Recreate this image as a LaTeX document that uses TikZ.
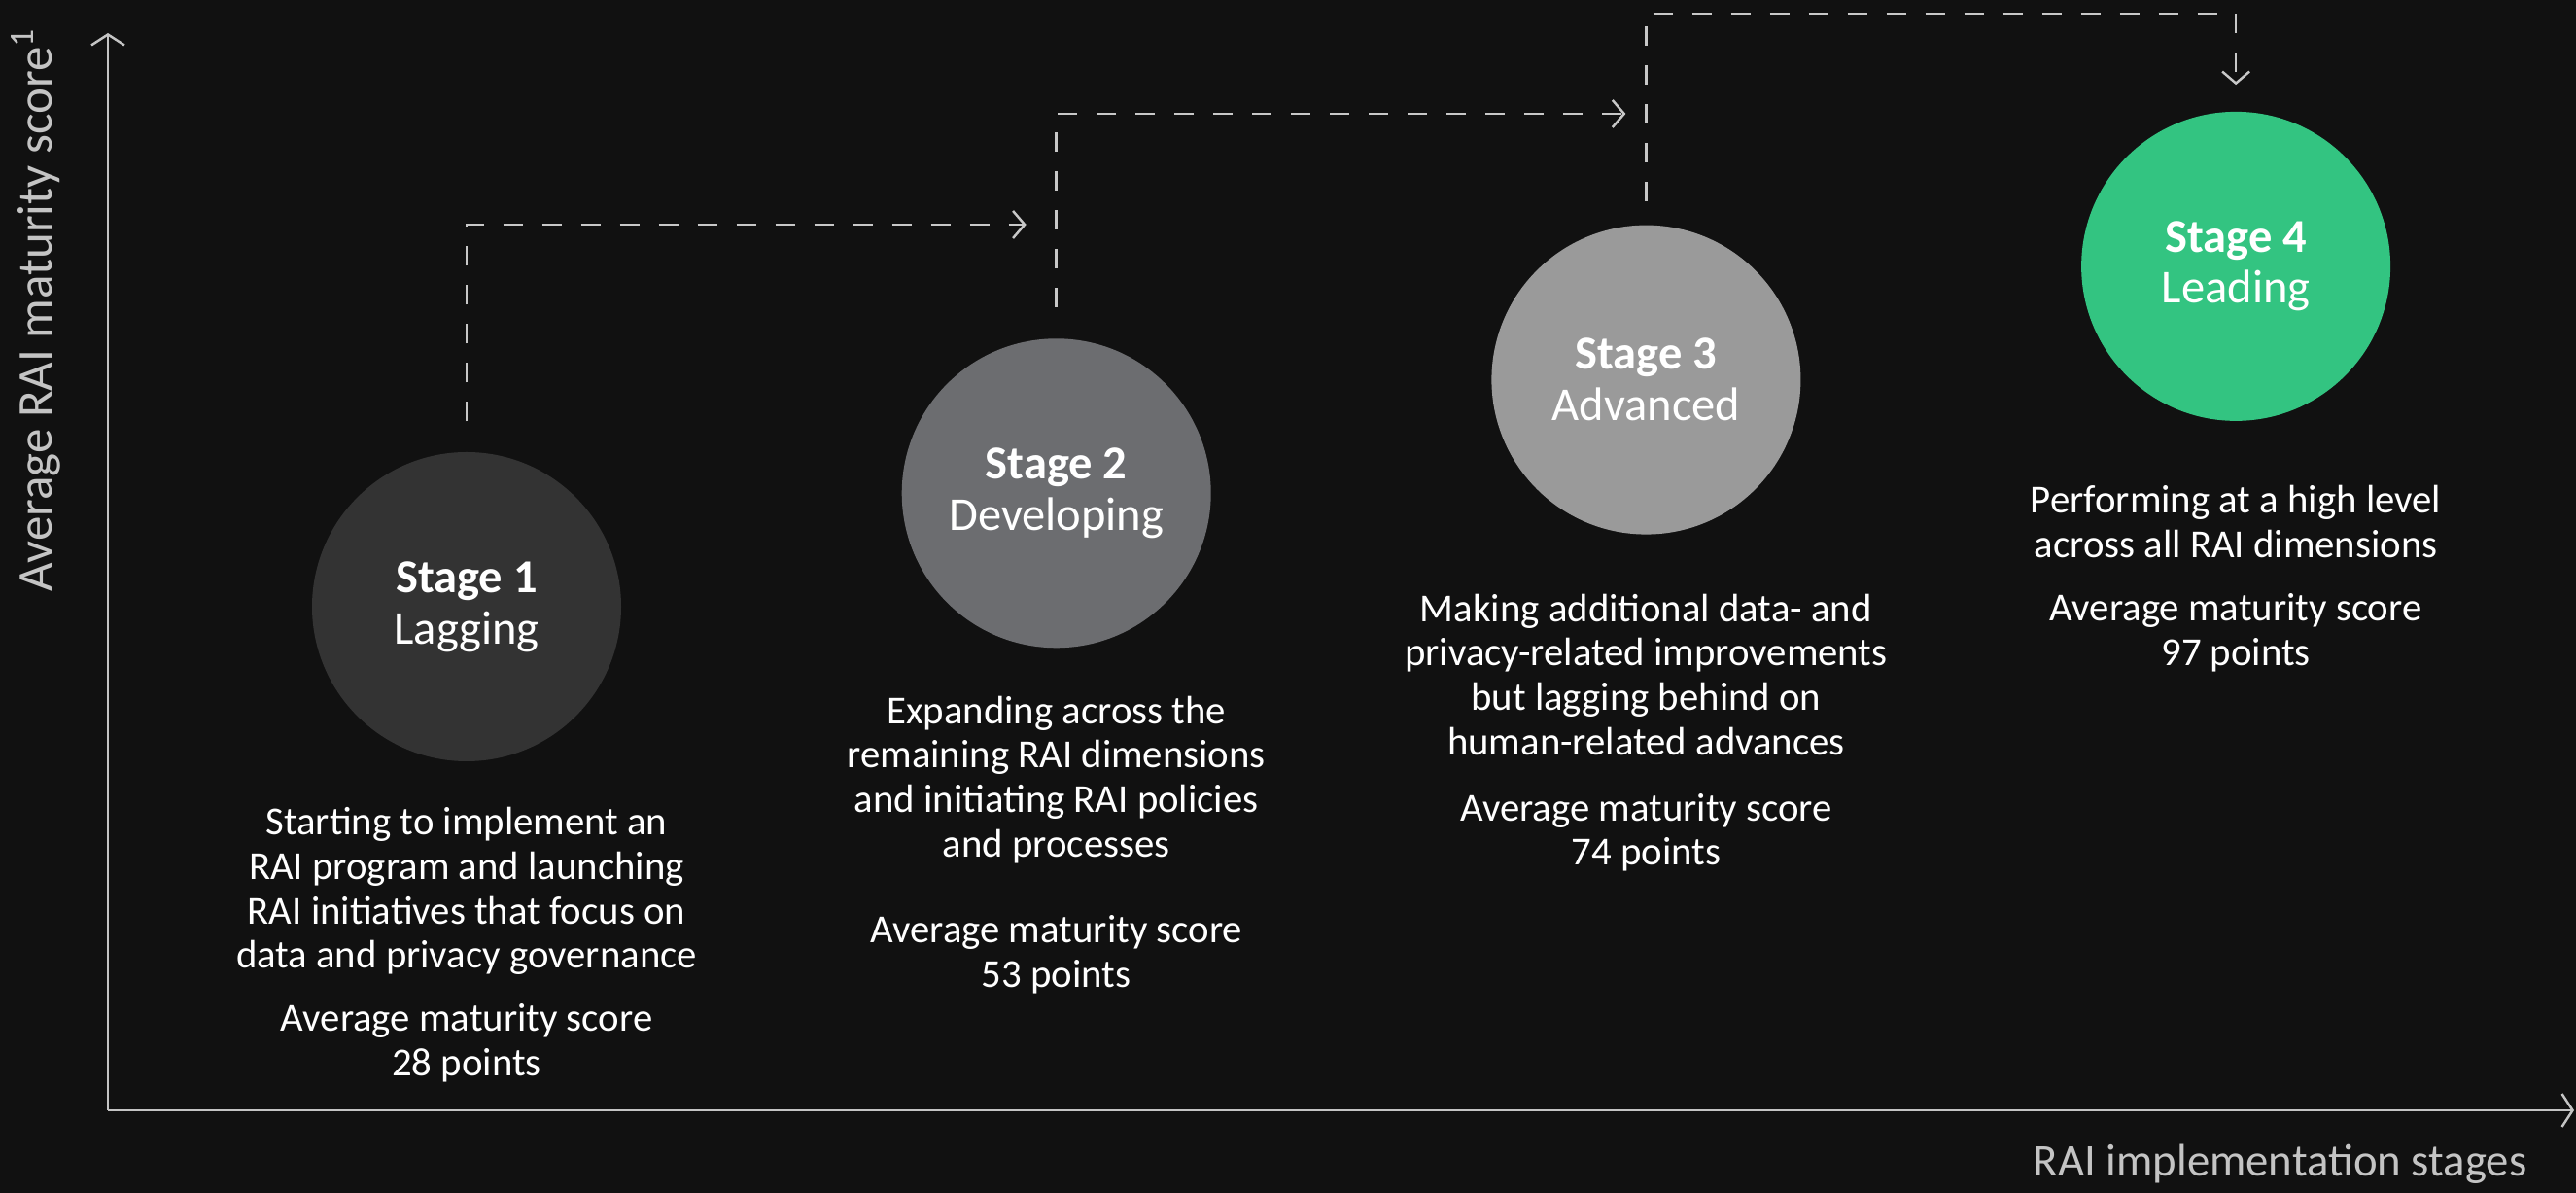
\documentclass[tikz,border=0pt]{standalone}
\usepackage{fontspec}
\setmainfont{Carlito}
\usetikzlibrary{
	arrows.meta,
	positioning
}

\definecolor{bgdark}{HTML}{111111}
\definecolor{axisgray}{HTML}{C4C4C4}
\definecolor{dashgray}{HTML}{C8C8C8}
\definecolor{stageone}{HTML}{333333}
\definecolor{stagetwo}{HTML}{6C6D70}
\definecolor{stagethree}{HTML}{9A9A9A}
\definecolor{stagefour}{HTML}{33C481}

\tikzset{
	stagecircle/.style={circle, minimum size=3.18cm, inner sep=0pt, align=center, text=white, font=\fontsize{13.8}{15}\selectfont},
	stagetext/.style={align=center, text=white, inner sep=0pt, font=\fontsize{11.6}{13}\selectfont},
	axislabel/.style={text=axisgray, inner sep=0pt, font=\fontsize{13.3}{15}\selectfont},
	axisline/.style={draw=axisgray, line width=0.7pt, -{Straight Barb[length=1.1mm, width=3.4mm]}},
	flowline/.style={draw=dashgray, line width=0.7pt, dash pattern=on 2mm off 2mm, -{Straight Barb[length=1.2mm, width=2.8mm]}}
}

\begin{document}
\begin{tikzpicture}
    % Definitions
    \coordinate (origo) at (0,0);
    \def \stepx{6.067}
    \def \stepy{1.167}
    % Background
    \fill[bgdark] (origo) rectangle (26.5,12.27);
    \useasboundingbox (origo) rectangle (26.5,12.27);
    %%%
    %%% Axes
    %%%
    \coordinate (corner) at (1.11,0.85);
    \coordinate (ytop) at (1.11,11.93);
    \coordinate (xend) at (26.48,0.85);
    \draw[axisline] (corner) -- (ytop);
    \draw[axisline] (corner) -- (xend);
    \node[axislabel, rotate=90, anchor=east, font=\fontsize{14.5}{16}\selectfont] (ylabel) at (0.37,11.99) {Average RAI maturity score\textsuperscript{1}};
    \node[axislabel, anchor=base east] (xlabel) at (26.0,0.17) {RAI implementation stages};
    %%%
    %%% Stages
    %%%
    \foreach \n/\stagename/\col in {1/Lagging/stageone, 2/Developing/stagetwo, 3/Advanced/stagethree, 4/Leading/stagefour}
    {
        \node[stagecircle, fill=\col] (stage\n) at ({4.80+(\n-1)*\stepx},{6.03+(\n-1)*\stepy}) {\textbf{Stage \n}\\\stagename};
    }
    % Descriptions
    \node[stagetext, below=0.46cm of stage1] (text1) {Starting to implement an\\RAI program and launching\\RAI initiatives that focus on\\data and privacy governance\\[0.19cm]Average maturity score\\28 points};
    \node[stagetext, below=0.48cm of stage2] (text2) {Expanding across the\\remaining RAI dimensions\\and initiating RAI policies\\and processes\\[0.43cm]Average maturity score\\53 points};
    \node[stagetext, below=0.60cm of stage3] (text3) {Making additional data- and\\privacy-related improvements\\but lagging behind on\\human-related advances\\[0.22cm]Average maturity score\\74 points};
    \node[stagetext, below=0.65cm of stage4] (text4) {Performing at a high level\\across all RAI dimensions\\[0.2cm]Average maturity score\\97 points};
    %%%
    %%% Dashed steps
    %%%
    \coordinate (start1) at ([yshift=0.31cm]stage1.north);
    \coordinate (start2) at ([yshift=0.32cm]stage2.north);
    \coordinate (start3) at ([yshift=0.24cm]stage3.north);
    \coordinate (end3) at ([yshift=0.27cm]stage4.north);
    \draw[flowline] (start1) -- (start1 |- 0,9.96) -- ([xshift=-0.31cm]stage2.center |- 0,9.96);
    \draw[flowline] (start2) -- (start2 |- 0,11.10) -- ([xshift=-0.21cm]stage3.center |- 0,11.10);
    \draw[flowline] (start3) -- (start3 |- 0,12.13) -| (end3);
\end{tikzpicture}
\end{document}
